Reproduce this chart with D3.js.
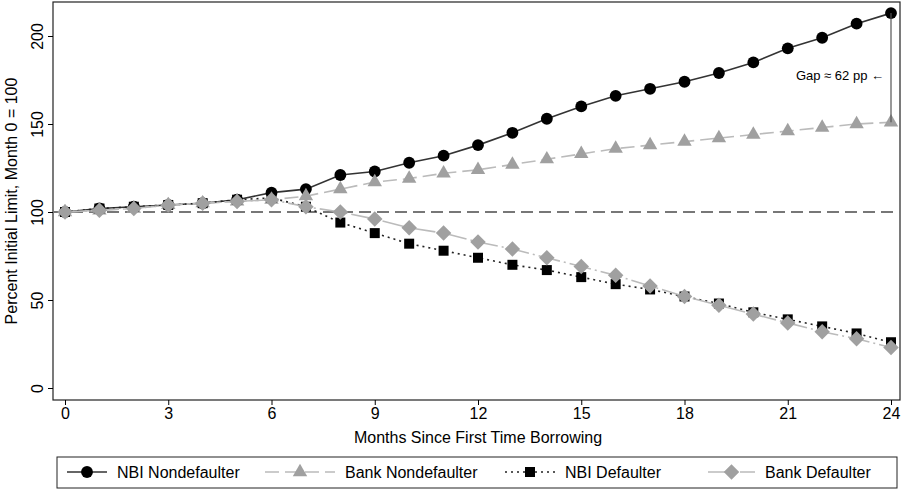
<!DOCTYPE html><html><head><meta charset="utf-8"><script src="https://cdn.jsdelivr.net/npm/d3@7"></script>
<style>body{margin:0;background:#fff}text{font-family:"Liberation Sans",Arial,sans-serif}</style></head><body><svg id="c" width="902" height="493"></svg><script>
const months=d3.range(0,25);
const nbiNon=[100,102,103,104,105,107,111,113,121,123,128,132,138,145,153,160,166,170,174,179,185,193,199,207,213];
const bankNon=[100,101,102,104,105,106,107,109,113,117,119,122,124,127,130,133,136,138,140,142,144,146,148,150,151];
const nbiDef=[100,102,103,104,105,107,108,103,94,88,82,78,74,70,67,63,59,56,52,48,43,39,35,31,26];
const bankDef=[100,101,102,104,105,106,107,103,100,96,91,88,83,79,74,69,64,58,52,47,42,37,32,28,23];
const xTicks=[0,3,6,9,12,15,18,21,24], yTicks=[0,50,100,150,200];
const svg=d3.select("#c");
const x=d3.scaleLinear([0,24],[65,891]), y=d3.scaleLinear([0,200],[388,36]);
svg.append("rect").attr("x",53).attr("y",2).attr("width",847).attr("height",398).attr("fill","none").attr("stroke","#222").attr("stroke-width",1.2);
svg.append("g").attr("transform","translate(0,400)").call(d3.axisBottom(x).tickValues(xTicks).tickSize(5).tickSizeOuter(0)).call(g=>{g.select(".domain").remove();g.selectAll("text").attr("font-size",16).attr("fill","#000");});
svg.append("g").attr("transform","translate(53,0)").call(d3.axisLeft(y).tickValues(yTicks).tickSize(5).tickSizeOuter(0)).call(g=>{g.select(".domain").remove();g.selectAll("text").attr("font-size",16).attr("fill","#000").attr("transform","rotate(-90)").attr("text-anchor","middle").attr("x",0).attr("y",-10).attr("dy","0");});
svg.append("text").attr("transform","translate(17,201) rotate(-90)").attr("text-anchor","middle").attr("font-size",16).text("Percent Initial Limit, Month 0 = 100");
svg.append("text").attr("x",478).attr("y",443).attr("text-anchor","middle").attr("font-size",16).text("Months Since First Time Borrowing");
svg.append("line").attr("x1",53).attr("x2",900).attr("y1",y(100)).attr("y2",y(100)).attr("stroke","#777").attr("stroke-width",2).attr("stroke-dasharray","12,6");
const series=[
 {name:"NBI Nondefaulter",v:nbiNon,c:"#000",lc:"#333",dash:null,sym:d3.symbolCircle,size:110,rot:0},
 {name:"Bank Nondefaulter",v:bankNon,c:"#a0a0a0",lc:"#bbb",dash:"14,6",sym:d3.symbolTriangle,size:90,rot:0},
 {name:"NBI Defaulter",v:nbiDef,c:"#000",lc:"#222",dash:"2,4",sym:d3.symbolSquare,size:100,rot:0},
 {name:"Bank Defaulter",v:bankDef,c:"#a0a0a0",lc:"#bbb",dash:"22,4,2,4",sym:d3.symbolSquare,size:120,rot:45}];
const line=d3.line().x((d,i)=>x(months[i])).y(d=>y(d));
series.forEach(s=>{
 svg.append("path").attr("d",line(s.v)).attr("fill","none").attr("stroke",s.lc).attr("stroke-width",1.6).attr("stroke-dasharray",s.dash);
});
series.forEach(s=>{
 svg.append("g").selectAll("path").data(s.v).join("path").attr("transform",(d,i)=>`translate(${x(months[i])},${y(d)}) rotate(${s.rot})`).attr("d",d3.symbol(s.sym,s.size)).attr("fill",s.c);
});
svg.append("line").attr("x1",x(24)).attr("x2",x(24)).attr("y1",y(nbiNon[24])).attr("y2",y(bankNon[24])).attr("stroke","#555").attr("stroke-width",1.2);
svg.append("text").attr("x",884).attr("y",80).attr("text-anchor","end").attr("font-size",13).text("Gap ≈ "+(nbiNon[24]-bankNon[24])+" pp ←");
// legend
svg.append("rect").attr("x",57).attr("y",457).attr("width",840).attr("height",31).attr("fill","none").attr("stroke","#222");
const lx=[67,265,505,708], lw=[40,70,50,47];
series.forEach((s,i)=>{
 svg.append("line").attr("x1",lx[i]).attr("x2",lx[i]+lw[i]).attr("y1",472).attr("y2",472).attr("stroke",s.lc).attr("stroke-width",1.6).attr("stroke-dasharray",s.dash);
 svg.append("path").attr("transform",`translate(${lx[i]+lw[i]/2},472) rotate(${s.rot})`).attr("d",d3.symbol(s.sym,s.size)).attr("fill",s.c);
 svg.append("text").attr("x",lx[i]+lw[i]+10).attr("y",478).attr("font-size",16).text(s.name);
});
</script></body></html>
